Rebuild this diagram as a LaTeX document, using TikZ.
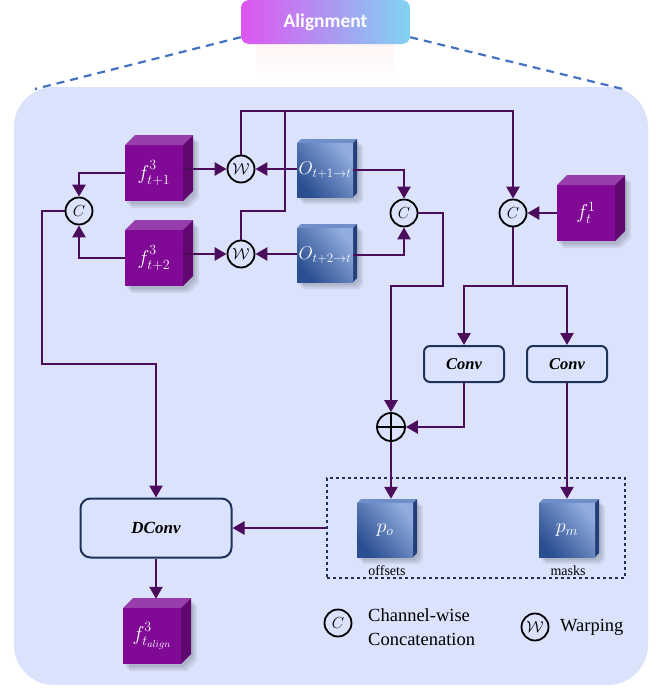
\documentclass[tikz,border=0pt]{standalone}
\usepackage{fix-cm}
\usepackage{fontspec}
\setmainfont{Liberation Serif}
\newfontfamily\alfont{Carlito}
\usetikzlibrary{arrows.meta,calc}
\definecolor{lc}{RGB}{75,12,92}
\definecolor{panel}{RGB}{219,226,252}
\definecolor{cpf}{RGB}{128,10,150}
\definecolor{cpt}{RGB}{152,62,172}
\definecolor{cps}{RGB}{96,8,112}
\definecolor{bdark}{RGB}{42,78,145}
\definecolor{blight}{RGB}{145,172,222}
\definecolor{btop}{RGB}{112,142,202}
\definecolor{bside}{RGB}{35,62,120}
\definecolor{navy}{RGB}{30,50,90}
\definecolor{dashblue}{RGB}{68,114,196}
\definecolor{alL}{RGB}{222,85,240}
\definecolor{alR}{RGB}{128,212,242}
\newcommand\upsup[1]{\raisebox{2pt}{$\scriptstyle #1$}}
\tikzset{
  conn/.style={draw=lc, line width=2.6pt},
  arr/.style={conn, -{Triangle[length=12pt,width=13pt]}},
  op/.style={circle, draw=black, line width=1.8pt, minimum size=27pt, inner sep=0pt, font=\fontsize{16}{16}\selectfont},
  convbox/.style={draw=navy, line width=2pt, rounded corners=6pt, minimum width=80pt, minimum height=36pt, inner sep=0pt, font=\fontsize{16.5}{16.5}\selectfont\bfseries\itshape},
  cubefront/.style={fill=cpf, minimum width=58pt, minimum height=56pt, inner sep=0pt, text=white, font=\fontsize{20}{20}\selectfont},
  bluefront/.style={top color=blight, bottom color=bdark, shading angle=-50, minimum width=56pt, minimum height=54pt, inner sep=0pt, text=white, font=\fontsize{18.5}{18.5}\selectfont},
  smalllab/.style={font=\fontsize{14}{14}\selectfont, inner sep=0pt}
}
\newcommand\pcube[4]{%
  \begin{scope}[shift={(#2,#3)}]
    \foreach \s in {2,4,6}{\fill[black,opacity=0.07,shift={(\s,\s+1)}] (0,0)--(10,-10)--(68,-10)--(68,46)--(58,56)--(0,56)--cycle;}
    \fill[cpt] (0,0)--(10,-10)--(68,-10)--(58,0)--cycle;
    \fill[cps] (58,0)--(68,-10)--(68,46)--(58,56)--cycle;
    \node[cubefront] (#1) at (29,28) {#4};
  \end{scope}}
\newcommand\bcube[4]{%
  \begin{scope}[shift={(#2,#3)}]
    \foreach \s in {2,4,6}{\fill[black,opacity=0.07,shift={(\s,\s+1)}] (0,0)--(4,-4)--(60,-4)--(60,50)--(56,54)--(0,54)--cycle;}
    \fill[btop] (0,0)--(4,-4)--(60,-4)--(56,0)--cycle;
    \fill[bside] (56,0)--(60,-4)--(60,50)--(56,54)--cycle;
    \node[bluefront] (#1) at (28,27) {#4};
  \end{scope}}
\begin{document}
\begin{tikzpicture}[x=1pt,y=-1pt]
\useasboundingbox (0,0) rectangle (665,688);
% panel and header
\fill[panel, rounded corners=40pt] (14,87) rectangle (648,685);
\shade[top color=red!10, bottom color=white, opacity=0.4] (256,44) rectangle (394,80);
\coordinate (dl) at (35,89);
\coordinate (dr) at (627,90);
\node[rounded corners=8pt, left color=alL, right color=alR, minimum width=169pt, minimum height=44pt, inner sep=0pt, text=white, font=\alfont\fontsize{19.5}{19.5}\selectfont\bfseries] (align) at (325.5,22) {Alignment};
\draw[dashblue, line width=2.2pt, dash pattern=on 8pt off 6pt] ([yshift=7pt]align.south west) -- (dl);
\draw[dashblue, line width=2.2pt, dash pattern=on 8pt off 6pt] ([yshift=7pt]align.south east) -- (dr);

% dashed output box
\node[draw=navy, dashed, line width=1.5pt, minimum width=298pt, minimum height=100pt, inner sep=0pt] (dbox) at (476,528) {};

% cubes
\pcube{f1}{125}{145}{$f^{\upsup{3}}_{t+1}$}
\pcube{f2}{125}{230}{$f^{\upsup{3}}_{t+2}$}
\pcube{ft}{557}{185}{$f^1_{t}$}
\pcube{fa}{123}{608}{$f^{\upsup{3}}_{t_{align}}$}
\bcube{o1}{297}{143}{$O_{t+1\rightarrow t}$}
\bcube{o2}{297}{228}{$O_{t+2\rightarrow t}$}
\bcube{po}{357}{503}{\fontsize{20}{20}\selectfont$p_o$}
\bcube{pm}{539}{503}{\fontsize{20}{20}\selectfont$p_m$}
\node[smalllab] (offl) at (387,571) {offsets};
\node[smalllab] (maskl) at (568,571) {masks};

% operators
\node[op] (w1) at (241,169) {$\mathcal{W}$};
\node[op] (w2) at (241,254) {$\mathcal{W}$};
\node[op] (c1) at (79,211) {$C$};
\node[op] (c2) at (404,213) {$C$};
\node[op] (c3) at (513,213) {$C$};
\node[circle, draw=black, line width=1.8pt, minimum size=28pt, inner sep=0pt] (plus) at (391,427) {};
\draw[black, line width=1.8pt] (plus.north) -- (plus.south) (plus.west) -- (plus.east);

% boxes
\node[convbox] (conv1) at (464,364) {Conv};
\node[convbox] (conv2) at (567,364) {Conv};
\node[convbox, minimum width=151pt, minimum height=59pt, rounded corners=10pt, font=\fontsize{17}{17}\selectfont\bfseries\itshape] (dconv) at (156,528) {DConv};

% helper coordinates
\coordinate (topc) at (513,111);
\coordinate (j1) at (285,211);
\coordinate (k1) at (443,286);
\coordinate (s1) at (513,286);
\coordinate (l1) at (42,364);

% connectors
\draw[arr] (f1.east |- w1) -- (w1.west);
\draw[arr] (f2.east |- w2) -- (w2.west);
\draw[arr] (o1.west |- w1) -- (w1.east);
\draw[arr] (o2.west |- w2) -- (w2.east);
\draw[arr] (f1.west) -| (c1.north);
\draw[arr] (f2.west) -| (c1.south);
\draw[arr] (o1.east) -| (c2.north);
\draw[arr] (o2.east) -| (c2.south);
\draw[arr] (w1.north) |- (topc) -- (c3.north);
\draw[conn] (w2.north) |- (j1) -- (j1 |- topc);
\draw[arr] (ft.west) -- (c3.east);
\draw[arr] (c2.east) -| (k1) -| (plus.north);
\draw[conn] (c3.south) -- (s1);
\draw[arr] (s1) -| (conv1.north);
\draw[arr] (s1) -| (conv2.north);
\draw[arr] (conv1.south) |- (plus.east);
\draw[arr] (plus.south) -- ([yshift=4pt]plus.south |- po.north);
\draw[arr] (conv2.south) -- ([yshift=4pt]conv2.south |- pm.north);
\draw[arr] (dbox.west) -- (dconv.east);
\draw[arr] (c1.west) -| (l1) -| (dconv.north);
\draw[arr] (dconv.south) -- ([yshift=9pt]dconv.south |- fa.north);

% legend
\node[op] (lgc) at (338,623) {$C$};
\node[anchor=west, align=left, inner sep=0pt, font=\fontsize{18.5}{24}\selectfont] (lgct) at (368,627) {Channel-wise\\Concatenation};
\node[op] (lgw) at (535,627) {$\mathcal{W}$};
\node[anchor=west, inner sep=0pt, font=\fontsize{18.5}{24}\selectfont] (lgwt) at (560,627) {Warping};
\end{tikzpicture}
\end{document}
